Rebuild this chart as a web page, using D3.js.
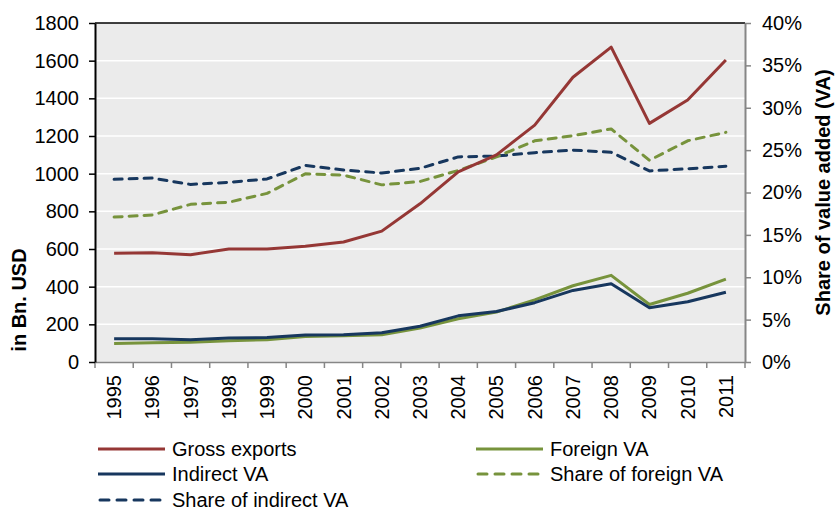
<!DOCTYPE html>
<html>
<head>
<meta charset="utf-8">
<script src="https://cdn.jsdelivr.net/npm/d3@7"></script>
<style>
  html, body { margin: 0; padding: 0; background: #fff; overflow: hidden; }
  svg { display: block; }
  svg text { font-family: "Liberation Sans", Arial, sans-serif; fill: #000; }
</style>
</head>
<body>
<div id="chart"></div>
<script>
// Data
const years = ["1995", "1996", "1997", "1998", "1999", "2000", "2001", "2002", "2003",
    "2004", "2005", "2006", "2007", "2008", "2009", "2010", "2011"];
const grossExports = [578, 580, 570, 600, 600, 615, 637, 695, 840, 1010, 1100, 1258, 1512, 1672, 1267, 1391, 1604];
const foreignVA = [98, 102, 105, 113, 118, 135, 140, 145, 180, 230, 265, 330, 405, 460, 305, 365, 440];
const indirectVA = [123, 124, 118, 127, 130, 143, 145, 155, 190, 245, 268, 315, 380, 415, 288, 320, 370];
const shareForeign = [17.1, 17.35, 18.6, 18.85, 19.9, 22.2, 22.05, 20.9, 21.3, 22.6, 24.2, 26.1, 26.7, 27.5, 23.8, 26.1, 27.1];
const shareIndirect = [21.55, 21.7, 20.95, 21.2, 21.6, 23.2, 22.65, 22.3, 22.85, 24.2, 24.3, 24.7, 25.0, 24.75, 22.55, 22.8, 23.1];
const leftTicks = [0, 200, 400, 600, 800, 1000, 1200, 1400, 1600, 1800];
const rightTicks = [0, 5, 10, 15, 20, 25, 30, 35, 40];

const red = "#953735";
const green = "#77933c";
const navy = "#17375e";

const width = 835;
const height = 508;
const margin = { top: 23, right: 90, bottom: 146, left: 95 };
const innerWidth = width - margin.left - margin.right;
const innerHeight = height - margin.top - margin.bottom;

const svg = d3.select("#chart")
    .append("svg")
    .attr("width", width)
    .attr("height", height);

const chart = svg.append("g")
    .attr("transform", `translate(${margin.left}, ${margin.top})`);

// Scales
const xScale = d3.scaleBand().domain(years).range([0, innerWidth]);
const yLeft = d3.scaleLinear().domain([0, 1800]).range([innerHeight, 0]);
const yRight = d3.scaleLinear().domain([0, 40]).range([innerHeight, 0]);
const xMid = (d, i) => xScale(years[i]) + xScale.bandwidth() / 2;

// Plot background and gridlines
chart.append("rect")
    .attr("width", innerWidth)
    .attr("height", innerHeight)
    .attr("fill", "#ebebeb");

chart.selectAll(".grid")
    .data(leftTicks.slice(1, -1))
    .enter()
    .append("line")
    .attr("class", "grid")
    .attr("x1", 0)
    .attr("x2", innerWidth)
    .attr("y1", (d) => yLeft(d))
    .attr("y2", (d) => yLeft(d))
    .attr("stroke", "#fff")
    .attr("stroke-width", 1.5);

// top border
chart.append("line")
    .attr("x1", 0).attr("x2", innerWidth)
    .attr("y1", 0).attr("y2", 0)
    .attr("stroke", "#000")
    .attr("stroke-width", 1.5);

// Axes
const xAxisGroup = chart.append("g")
    .attr("transform", `translate(0, ${innerHeight})`);
xAxisGroup.call(d3.axisBottom(xScale).tickSize(0).tickSizeOuter(0));
xAxisGroup.select(".domain").attr("stroke", "#868686").attr("stroke-width", 1.5);
xAxisGroup.selectAll("text")
    .attr("transform", "rotate(-90)")
    .attr("text-anchor", "end")
    .attr("x", -13)
    .attr("y", 0)
    .attr("dy", "0.35em")
    .style("font-size", "20px");
// boundary ticks between categories
xAxisGroup.selectAll(".bound")
    .data(d3.range(years.length + 1))
    .enter()
    .append("line")
    .attr("class", "bound")
    .attr("x1", (i) => i * xScale.step())
    .attr("x2", (i) => i * xScale.step())
    .attr("y1", 0)
    .attr("y2", 6)
    .attr("stroke", "#868686")
    .attr("stroke-width", 1.5);

const yAxisGroup = chart.append("g");
yAxisGroup.call(d3.axisLeft(yLeft).tickValues(leftTicks).tickSize(6).tickSizeOuter(0).tickPadding(10)
    .tickFormat(d3.format("d")));
yAxisGroup.select(".domain").attr("stroke", "#000").attr("stroke-width", 2);
yAxisGroup.selectAll(".tick line").attr("stroke", "#000").attr("stroke-width", 1.5);
yAxisGroup.selectAll("text").style("font-size", "20px");

const yRightGroup = chart.append("g")
    .attr("transform", `translate(${innerWidth}, 0)`);
yRightGroup.call(d3.axisRight(yRight).tickValues(rightTicks).tickSize(6).tickSizeOuter(0).tickPadding(11)
    .tickFormat((d) => d + "%"));
yRightGroup.select(".domain").attr("stroke", "#868686").attr("stroke-width", 2);
yRightGroup.selectAll(".tick line").attr("stroke", "#868686").attr("stroke-width", 1.5);
yRightGroup.selectAll("text").style("font-size", "20px");

// Axis titles
svg.append("text")
    .attr("transform", "rotate(-90)")
    .attr("x", -300)
    .attr("y", 26)
    .attr("text-anchor", "middle")
    .style("font-size", "20px")
    .style("font-weight", "bold")
    .text("in Bn. USD");

svg.append("text")
    .attr("transform", "rotate(-90)")
    .attr("x", -(margin.top + innerHeight / 2))
    .attr("y", 830)
    .attr("text-anchor", "middle")
    .style("font-size", "20px")
    .style("font-weight", "bold")
    .text("Share of value added (VA)");

// Lines
const series = [
    { name: "Share of indirect VA", values: shareIndirect, color: navy, dashed: true, scale: yRight },
    { name: "Share of foreign VA", values: shareForeign, color: green, dashed: true, scale: yRight },
    { name: "Foreign VA", values: foreignVA, color: green, dashed: false, scale: yLeft },
    { name: "Indirect VA", values: indirectVA, color: navy, dashed: false, scale: yLeft },
    { name: "Gross exports", values: grossExports, color: red, dashed: false, scale: yLeft },
];

series.forEach((s) => {
    const line = d3.line()
        .x((d, i) => xMid(d, i))
        .y((d) => s.scale(d));
    chart.append("path")
        .datum(s.values)
        .attr("fill", "none")
        .attr("stroke", s.color)
        .attr("stroke-width", 3)
        .attr("stroke-linejoin", "round")
        .attr("stroke-linecap", s.dashed ? "round" : "butt")
        .attr("stroke-dasharray", s.dashed ? "8,7" : null)
        .attr("d", line);
});

// Legend
const legendItems = [
    { name: "Gross exports", color: red, dashed: false, x: 98, y: 449 },
    { name: "Foreign VA", color: green, dashed: false, x: 476, y: 449 },
    { name: "Indirect VA", color: navy, dashed: false, x: 98, y: 474 },
    { name: "Share of foreign VA", color: green, dashed: true, x: 476, y: 474 },
    { name: "Share of indirect VA", color: navy, dashed: true, x: 98, y: 500 },
];

const legend = svg.selectAll(".legend")
    .data(legendItems)
    .enter()
    .append("g")
    .attr("class", "legend")
    .attr("transform", (d) => `translate(${d.x}, ${d.y})`);

legend.append("line")
    .attr("x1", (d) => d.dashed ? 2 : 0)
    .attr("x2", (d) => d.dashed ? 66 : 67)
    .attr("stroke", (d) => d.color)
    .attr("stroke-width", 3)
    .attr("stroke-linecap", (d) => d.dashed ? "round" : "butt")
    .attr("stroke-dasharray", (d) => d.dashed ? "9,8" : null);

legend.append("text")
    .attr("x", 74)
    .attr("dy", "0.35em")
    .style("font-size", "20px")
    .text((d) => d.name);
</script>
</body>
</html>
